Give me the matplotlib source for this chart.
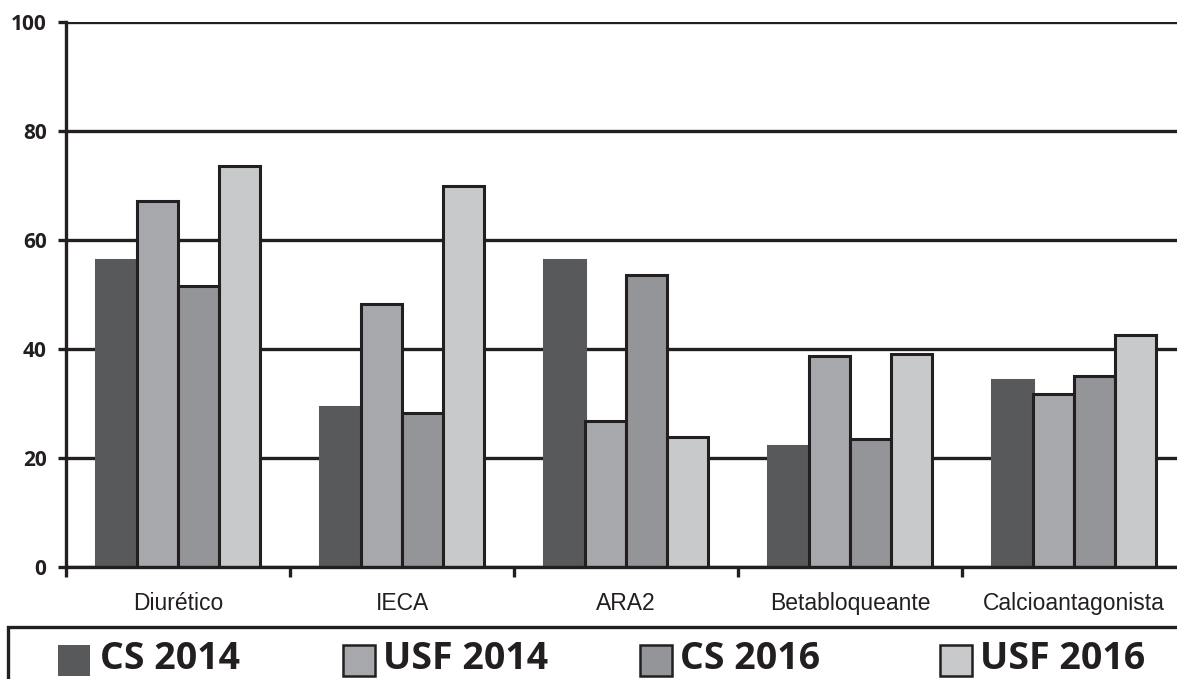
import matplotlib
matplotlib.use("Agg")
import matplotlib.pyplot as plt
from matplotlib.patches import Rectangle
import numpy as np

categories = ["Diurético", "IECA", "ARA2", "Betabloqueante", "Calcioantagonista"]
series_names = ["CS 2014", "USF 2014", "CS 2016", "USF 2016"]
cs_2014 = [56.3, 29.4, 56.4, 22.2, 34.3]
usf_2014 = [67.2, 48.3, 26.8, 38.7, 31.7]
cs_2016 = [51.6, 28.3, 53.5, 23.5, 35.0]
usf_2016 = [73.6, 69.9, 23.8, 39.1, 42.6]
y_ticks = [0, 20, 40, 60, 80, 100]

series_values = [cs_2014, usf_2014, cs_2016, usf_2016]
fills = ["#58595b", "#a7a8ab", "#939598", "#c8c9cb"]
edges = ["#58595b", "#231f20", "#231f20", "#231f20"]
ink = "#231f20"

W, H = 1177, 679
fig = plt.figure(figsize=(W / 100, H / 100), dpi=100)
fig.patch.set_facecolor("white")

# plot area runs slightly past the right edge of the canvas
ax = fig.add_axes([66 / W, 1 - 567 / H, 1120 / W, 545 / H])

x = np.arange(len(categories))
bw = 0.183
offsets = (np.arange(len(series_names)) - 1.5) * bw
for vals, off, fc, ec in zip(series_values, offsets, fills, edges):
    ax.bar(x + off, vals, width=bw, color=fc, edgecolor=ec,
           linewidth=2.2, zorder=3)

ax.set_xlim(-0.5, 4.5)
ax.set_ylim(0, 100)
ax.set_yticks(y_ticks)
ax.yaxis.grid(True, color=ink, linewidth=2.4, zorder=0)
ax.set_axisbelow(True)

for side in ("top", "right"):
    ax.spines[side].set_visible(False)
for side in ("left", "bottom"):
    ax.spines[side].set_color(ink)
    ax.spines[side].set_linewidth(2.4)
    ax.spines[side].set_zorder(4)
ax.spines["bottom"].set_zorder(5)

ax.tick_params(axis="y", length=6, width=2.4, color=ink, pad=8,
               labelsize=15, labelcolor=ink)
for lab in ax.get_yticklabels():
    lab.set_fontfamily("Open Sans")
    lab.set_fontweight("bold")

ax.set_xticks(x)
ax.set_xticklabels(categories, fontsize=16.5, color=ink,
                   fontfamily="Liberation Sans")
ax.set_xticks(np.arange(-0.5, 5.0, 1.0), minor=True)
ax.tick_params(axis="x", which="major", length=0, pad=18)
ax.tick_params(axis="x", which="minor", length=7, width=2.4, color=ink,
               direction="out")

# legend panel along the bottom
fig.patches.append(Rectangle((8 / W, -0.05), 1.2, (1 - 627 / H) + 0.05,
                             transform=fig.transFigure, facecolor="white",
                             edgecolor=ink, linewidth=2.4))
patch_x = [58, 343, 640, 940]
text_x = [100, 383, 680, 980]
for name, fc, ec, px, tx in zip(series_names, fills, edges, patch_x, text_x):
    lw = 0 if ec == fc else 1.8
    fig.patches.append(Rectangle((px / W, 1 - 676 / H), 32 / W, 31 / H,
                                 transform=fig.transFigure, facecolor=fc,
                                 edgecolor=ec, linewidth=lw))
    fig.text(tx / W, 1 - 678 / H, name, ha="left", va="bottom",
             fontsize=27, fontweight="bold", color=ink, family="Open Sans")

fig.savefig("out.png", dpi=100)
